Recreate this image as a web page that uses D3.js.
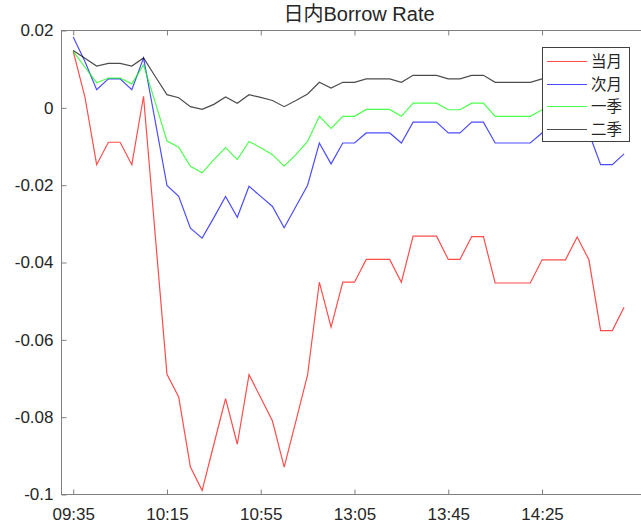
<!DOCTYPE html>
<html lang="zh">
  <head>
    <meta charset="UTF-8">
    <script src="https://d3js.org/d3.v7.min.js"></script>
    <title>日内Borrow Rate</title>
    <style>
      body { margin: 0; background: #fff; }
      svg { display: block; }
      .tick-label { font-family: "Liberation Sans", Arial, sans-serif; font-size: 17px; fill: #262626; }
      .title { font-family: "Liberation Sans", "Noto Sans CJK SC", sans-serif; font-size: 20px; fill: #262626; }
      .legend-text { font-family: "Noto Sans CJK SC", sans-serif; font-size: 15.5px; fill: #262626; }
    </style>
  </head>
  <body>
    <div id="chart"></div>
    <script>
      // time axis: one point every 5 minutes, lunch break skipped
      const times = [
        "09:35","09:40","09:45","09:50","09:55","10:00","10:05","10:10",
        "10:15","10:20","10:25","10:30","10:35","10:40","10:45","10:50",
        "10:55","11:00","11:05","11:10","11:15","11:20","11:25","11:30",
        "13:05","13:10","13:15","13:20","13:25","13:30","13:35","13:40",
        "13:45","13:50","13:55","14:00","14:05","14:10","14:15","14:20",
        "14:25","14:30","14:35","14:40","14:45","14:50","14:55","15:00"
      ];
      const xTickLabels = ["09:35", "10:15", "10:55", "13:05", "13:45", "14:25"];
      const yTicks = [0.02, 0, -0.02, -0.04, -0.06, -0.08, -0.1];

      const seriesNames = ["当月", "次月", "一季", "二季"];
      const seriesColors = ["#ff0000", "#0000ff", "#00ff00", "#000000"];

      const dangYue = [
        0.0146, 0.0028, -0.0147, -0.0089, -0.0089, -0.0147, 0.0030, -0.0330,
        -0.0689, -0.0748, -0.0929, -0.0990, -0.0870, -0.0752, -0.0870, -0.0690,
        -0.0750, -0.0810, -0.0929, -0.0810, -0.0690, -0.0451, -0.0567, -0.0451,
        -0.0451, -0.0392, -0.0392, -0.0392, -0.0451, -0.0332, -0.0332, -0.0332,
        -0.0392, -0.0392, -0.0333, -0.0333, -0.0453, -0.0453, -0.0453, -0.0453,
        -0.0393, -0.0393, -0.0393, -0.0334, -0.0393, -0.0576, -0.0576, -0.0516
      ];
      const ciYue = [
        0.0183, 0.0120, 0.0047, 0.0075, 0.0075, 0.0047, 0.0129, -0.0035,
        -0.0201, -0.0229, -0.0311, -0.0337, -0.0284, -0.0229, -0.0283, -0.0203,
        -0.0229, -0.0255, -0.0310, -0.0255, -0.0200, -0.0091, -0.0145, -0.0091,
        -0.0091, -0.0065, -0.0065, -0.0065, -0.0091, -0.0037, -0.0037, -0.0037,
        -0.0065, -0.0065, -0.0037, -0.0037, -0.0091, -0.0091, -0.0091, -0.0091,
        -0.0065, -0.0065, -0.0065, -0.0037, -0.0065, -0.0147, -0.0147, -0.0119
      ];
      const yiJi = [
        0.0146, 0.0105, 0.0065, 0.0077, 0.0077, 0.0062, 0.0111, 0.0014,
        -0.0086, -0.0102, -0.0151, -0.0168, -0.0134, -0.0103, -0.0134, -0.0087,
        -0.0103, -0.0121, -0.0151, -0.0121, -0.0087, -0.0022, -0.0053, -0.0022,
        -0.0022, -0.0004, -0.0004, -0.0004, -0.0022, 0.0012, 0.0012, 0.0012,
        -0.0005, -0.0005, 0.0012, 0.0012, -0.0022, -0.0022, -0.0022, -0.0022,
        -0.0005, -0.0005, -0.0005, 0.0012, -0.0005, -0.0060, -0.0060, -0.0045
      ];
      const erJi = [
        0.0148, 0.0128, 0.0108, 0.0115, 0.0115, 0.0108, 0.0129, 0.0081,
        0.0034, 0.0026, 0.0003, -0.0004, 0.0009, 0.0028, 0.0012, 0.0034,
        0.0027, 0.0019, 0.0003, 0.0019, 0.0036, 0.0066, 0.0051, 0.0066,
        0.0066, 0.0075, 0.0075, 0.0075, 0.0066, 0.0084, 0.0084, 0.0084,
        0.0075, 0.0075, 0.0084, 0.0084, 0.0066, 0.0066, 0.0066, 0.0066,
        0.0075, 0.0075, 0.0075, 0.0084, 0.0075, 0.0040, 0.0040, 0.0050
      ];
      const seriesValues = [dangYue, ciYue, yiJi, erJi];

      const width = 641;
      const height = 528;
      const plotLeft = 61.5, plotRight = 647.5, plotTop = 30.5, plotBottom = 494.5;

      const svg = d3.select("#chart").append("svg")
        .attr("width", width)
        .attr("height", height);

      // x is the point index, like MATLAB plotting against 1..N
      const x = d3.scaleLinear().domain([-1, 49]).range([plotLeft, plotRight]);
      const y = d3.scaleLinear().domain([-0.1, 0.02]).range([plotBottom, plotTop]);

      // lines
      const line = d3.line()
        .x((d, i) => x(i))
        .y(d => y(d));

      seriesValues.forEach((vals, k) => {
        svg.append("path")
          .datum(vals)
          .attr("fill", "none")
          .attr("stroke", seriesColors[k])
          .attr("stroke-width", 1.2)
          .attr("stroke-opacity", 0.7)
          .attr("d", line);
      });

      // axes box
      const axisColor = "#808080";
      svg.append("rect")
        .attr("x", plotLeft).attr("y", plotTop)
        .attr("width", plotRight - plotLeft).attr("height", plotBottom - plotTop)
        .attr("fill", "none").attr("stroke", axisColor).attr("stroke-width", 1);

      const xTickIdx = xTickLabels.map(t => times.indexOf(t));

      const xAxis = svg.append("g")
        .attr("transform", `translate(0,${plotBottom})`)
        .call(d3.axisBottom(x).tickValues(xTickIdx).tickSizeInner(-5).tickSizeOuter(0)
          .tickFormat(i => times[i]));
      xAxis.select(".domain").remove();
      xAxis.selectAll("line").attr("stroke", axisColor);
      xAxis.selectAll("text").attr("class", "tick-label").attr("dy", null).attr("y", 25);

      svg.append("g")
        .attr("transform", `translate(0,${plotTop})`)
        .call(d3.axisTop(x).tickValues(xTickIdx).tickSizeInner(-5).tickSizeOuter(0).tickFormat(""))
        .call(g => g.select(".domain").remove())
        .call(g => g.selectAll("line").attr("stroke", axisColor));

      const yAxis = svg.append("g")
        .attr("transform", `translate(${plotLeft},0)`)
        .call(d3.axisLeft(y).tickValues(yTicks).tickSizeInner(-5).tickSizeOuter(0)
          .tickFormat(d => String(+d.toFixed(2))));
      yAxis.select(".domain").remove();
      yAxis.selectAll("line").attr("stroke", axisColor);
      yAxis.selectAll("text").attr("class", "tick-label").attr("x", -8);

      svg.append("g")
        .attr("transform", `translate(${plotRight},0)`)
        .call(d3.axisRight(y).tickValues(yTicks).tickSizeInner(-5).tickSizeOuter(0).tickFormat(""))
        .call(g => g.select(".domain").remove())
        .call(g => g.selectAll("line").attr("stroke", axisColor));

      // title
      svg.append("text")
        .attr("class", "title")
        .attr("x", 359)
        .attr("y", 21)
        .attr("text-anchor", "middle")
        .text("日内Borrow Rate");

      // legend
      const lg = svg.append("g");
      lg.append("rect")
        .attr("x", 542.5).attr("y", 47.5)
        .attr("width", 87).attr("height", 94)
        .attr("fill", "#fff").attr("stroke", "#404040").attr("stroke-width", 1);

      seriesNames.forEach((name, k) => {
        const ly = Math.round(61 + k * 22.5) + 0.5;
        lg.append("line")
          .attr("x1", 547).attr("x2", 587)
          .attr("y1", ly).attr("y2", ly)
          .attr("stroke", seriesColors[k])
          .attr("stroke-opacity", 0.7)
          .attr("stroke-width", 1);
        lg.append("text")
          .attr("class", "legend-text")
          .attr("x", 591)
          .attr("y", ly)
          .attr("dy", "0.36em")
          .text(name);
      });
    </script>
  </body>
</html>
